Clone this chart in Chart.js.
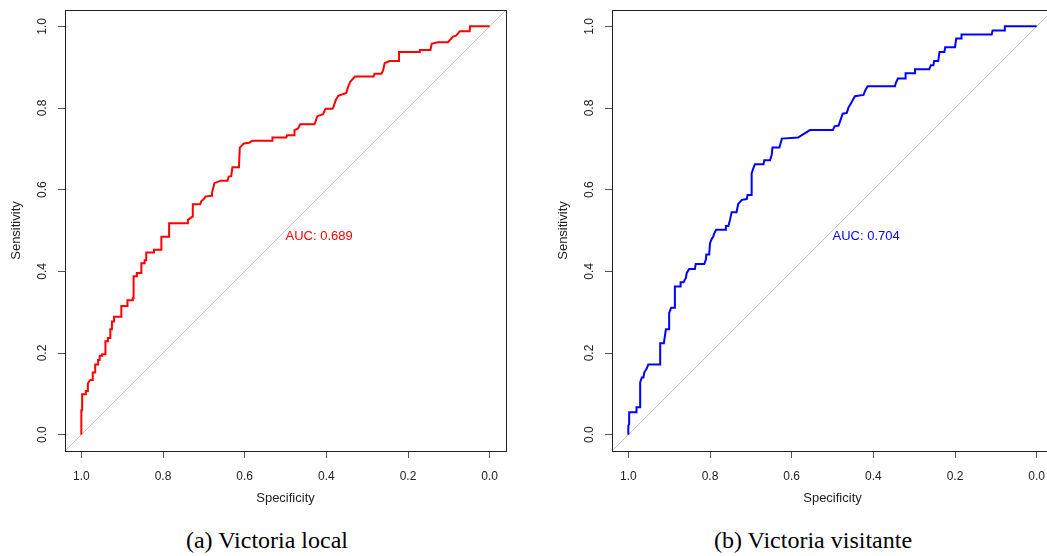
<!DOCTYPE html>
<html>
<head>
<meta charset="utf-8">
<script src="https://cdn.jsdelivr.net/npm/chart.js@4.4.1/dist/chart.umd.min.js"></script>
<style>
  html, body { margin: 0; padding: 0; background: #fff; }
  body { width: 1047px; height: 556px; position: relative; overflow: hidden; }
  canvas { position: absolute; top: 0; }
  #rocLocal { left: 0; }
  #rocVisit { left: 547px; }
  .caption {
    position: absolute; top: 528px; width: 300px; text-align: center;
    font-family: "Liberation Serif", "Times New Roman", serif;
    font-size: 24px; line-height: 24px; color: #000;
  }
</style>
</head>
<body>
<canvas id="rocLocal" width="547" height="520"></canvas>
<canvas id="rocVisit" width="547" height="520"></canvas>
<div class="caption" style="left:117px">(a) Victoria local</div>
<div class="caption" style="left:663px">(b) Victoria visitante</div>
<script>
// [specificity, sensitivity] vertices
const rocLocal = [
  [1.0, 0], [1.0, 0.060], [0.998, 0.060], [0.998, 0.099], [0.989, 0.099], [0.989, 0.107],
  [0.984, 0.107], [0.984, 0.126], [0.978, 0.134], [0.972, 0.134], [0.972, 0.152], [0.966, 0.152],
  [0.966, 0.172], [0.959, 0.172], [0.959, 0.183], [0.955, 0.183], [0.955, 0.193], [0.949, 0.193],
  [0.949, 0.197], [0.941, 0.197], [0.941, 0.229], [0.935, 0.229], [0.935, 0.237], [0.929, 0.237],
  [0.929, 0.258], [0.925, 0.258], [0.925, 0.277], [0.920, 0.277], [0.920, 0.289], [0.902, 0.289],
  [0.902, 0.315], [0.887, 0.315], [0.887, 0.329], [0.874, 0.329], [0.874, 0.335], [0.872, 0.335],
  [0.872, 0.388], [0.864, 0.388], [0.864, 0.396], [0.853, 0.396], [0.853, 0.420], [0.845, 0.420],
  [0.845, 0.427], [0.841, 0.427], [0.841, 0.446], [0.822, 0.446], [0.822, 0.453], [0.804, 0.453],
  [0.804, 0.485], [0.785, 0.485], [0.785, 0.518], [0.739, 0.518], [0.739, 0.526], [0.728, 0.534],
  [0.727, 0.564], [0.709, 0.564], [0.706, 0.572], [0.700, 0.577], [0.696, 0.583], [0.682, 0.585],
  [0.680, 0.593], [0.674, 0.616], [0.659, 0.622], [0.642, 0.622], [0.639, 0.632], [0.633, 0.633],
  [0.630, 0.655], [0.614, 0.655], [0.612, 0.703], [0.602, 0.713], [0.589, 0.715], [0.581, 0.720],
  [0.533, 0.720], [0.532, 0.728], [0.498, 0.728], [0.496, 0.733], [0.479, 0.733], [0.478, 0.746],
  [0.469, 0.750], [0.464, 0.760], [0.429, 0.760], [0.422, 0.780], [0.408, 0.785], [0.402, 0.798],
  [0.385, 0.798], [0.382, 0.804], [0.377, 0.819], [0.371, 0.830], [0.351, 0.837], [0.347, 0.851],
  [0.341, 0.865], [0.330, 0.877], [0.284, 0.877], [0.282, 0.884], [0.265, 0.884], [0.261, 0.892],
  [0.257, 0.910], [0.245, 0.915], [0.222, 0.915], [0.222, 0.937], [0.173, 0.937], [0.171, 0.942],
  [0.145, 0.942], [0.142, 0.957], [0.127, 0.961], [0.102, 0.961], [0.090, 0.975], [0.082, 0.977],
  [0.073, 0.988], [0.049, 0.988], [0.048, 1.0], [0.0, 1.0]
];

const rocVisit = [
  [1.0, 0], [1.0, 0.022], [0.998, 0.026], [0.998, 0.055], [0.980, 0.055], [0.980, 0.067],
  [0.971, 0.067], [0.971, 0.128], [0.967, 0.140], [0.963, 0.140], [0.961, 0.152], [0.955, 0.162],
  [0.951, 0.172], [0.922, 0.172], [0.922, 0.224], [0.913, 0.224], [0.908, 0.258], [0.900, 0.258],
  [0.900, 0.298], [0.895, 0.311], [0.886, 0.311], [0.886, 0.363], [0.873, 0.363], [0.872, 0.373],
  [0.865, 0.373], [0.859, 0.384], [0.857, 0.396], [0.851, 0.406], [0.837, 0.406], [0.835, 0.418],
  [0.814, 0.418], [0.810, 0.429], [0.809, 0.441], [0.802, 0.441], [0.800, 0.469], [0.796, 0.479],
  [0.792, 0.485], [0.790, 0.492], [0.785, 0.502], [0.763, 0.502], [0.761, 0.511], [0.755, 0.511],
  [0.751, 0.526], [0.747, 0.545], [0.735, 0.545], [0.731, 0.565], [0.722, 0.575], [0.710, 0.577],
  [0.708, 0.587], [0.698, 0.587], [0.698, 0.640], [0.694, 0.652], [0.690, 0.662], [0.669, 0.662],
  [0.667, 0.672], [0.653, 0.672], [0.649, 0.685], [0.647, 0.703], [0.630, 0.703], [0.624, 0.725],
  [0.584, 0.728], [0.579, 0.731], [0.555, 0.746], [0.499, 0.746], [0.495, 0.755], [0.485, 0.757],
  [0.482, 0.766], [0.475, 0.786], [0.465, 0.788], [0.461, 0.801], [0.455, 0.811], [0.450, 0.820],
  [0.445, 0.829], [0.424, 0.832], [0.419, 0.845], [0.414, 0.853], [0.347, 0.853], [0.345, 0.861],
  [0.340, 0.872], [0.322, 0.872], [0.321, 0.885], [0.300, 0.885], [0.298, 0.895], [0.263, 0.895],
  [0.259, 0.905], [0.253, 0.905], [0.251, 0.915], [0.241, 0.915], [0.238, 0.937], [0.226, 0.937],
  [0.224, 0.949], [0.200, 0.949], [0.197, 0.970], [0.185, 0.970], [0.184, 0.980], [0.110, 0.980],
  [0.108, 0.990], [0.080, 0.990], [0.078, 1.0], [0.0, 1.0]
];

const tickValues = [0, 0.2, 0.4, 0.6, 0.8, 1.0];
const axisMin = -0.04, axisMax = 1.04;
const aucLocal = 0.689, aucVisit = 0.704;

Chart.defaults.font.family = '"Liberation Sans", Arial, sans-serif';
Chart.defaults.color = '#222';

// R style box around the plot region
const boxPlugin = {
  id: 'box',
  afterDraw(chart) {
    const { ctx, chartArea: a } = chart;
    ctx.save();
    ctx.strokeStyle = '#222';
    ctx.lineWidth = 1;
    ctx.strokeRect(Math.round(a.left) + 0.5, Math.round(a.top) + 0.5,
      Math.round(a.right - a.left), Math.round(a.bottom - a.top));
    ctx.restore();
  }
};

// "AUC: x" note placed in data units, left/top aligned like pROC
const aucPlugin = {
  id: 'aucText',
  afterDatasetsDraw(chart, args, opts) {
    const { ctx, scales } = chart;
    ctx.save();
    ctx.font = '13px "Liberation Sans", Arial, sans-serif';
    ctx.fillStyle = opts.color;
    ctx.textAlign = 'left';
    ctx.textBaseline = 'top';
    ctx.fillText('AUC: ' + opts.value.toFixed(3), scales.x.getPixelForValue(0.5), scales.y.getPixelForValue(0.5) - 1);
    ctx.restore();
  }
};

function fixTicks(scale) {
  scale.ticks = tickValues.map(v => ({ value: v }));
}

function makeRoc(id, points, color, auc) {
  return new Chart(document.getElementById(id), {
    type: 'scatter',
    data: {
      datasets: [
        {
          data: points.map(p => ({ x: p[0], y: p[1] })),
          showLine: true,
          borderColor: color,
          borderWidth: 2,
          pointRadius: 0,
          order: 1
        },
        {
          data: [{ x: axisMax, y: axisMin }, { x: axisMin, y: axisMax }],
          showLine: true,
          borderColor: '#c8c8c8',
          borderWidth: 1,
          pointRadius: 0,
          order: 2
        }
      ]
    },
    options: {
      responsive: false,
      animation: false,
      devicePixelRatio: 1,
      layout: { padding: { top: 10, right: 41, left: 0, bottom: 0 } },
      plugins: {
        legend: { display: false },
        tooltip: { enabled: false },
        aucText: { value: auc, color: color }
      },
      scales: {
        x: {
          type: 'linear',
          reverse: true,
          min: axisMin,
          max: axisMax,
          afterBuildTicks: fixTicks,
          afterFit(scale) {
            scale.height = 69;
            scale.paddingLeft = scale.paddingRight = 0;
          },
          grid: { drawOnChartArea: false, drawTicks: true, tickLength: 7, tickColor: '#555' },
          border: { display: true, color: '#555' },
          ticks: {
            padding: 11,
            maxRotation: 0,
            font: { size: 12 },
            callback: v => v.toFixed(1)
          },
          title: {
            display: true,
            text: 'Specificity',
            font: { size: 13 },
            padding: { top: 0, bottom: 14 }
          }
        },
        y: {
          type: 'linear',
          min: axisMin,
          max: axisMax,
          afterBuildTicks: fixTicks,
          afterFit(scale) {
            scale.width = 65;
            scale.paddingTop = scale.paddingBottom = 0;
          },
          grid: { drawOnChartArea: false, drawTicks: true, tickLength: 7, tickColor: '#555' },
          border: { display: true, color: '#555' },
          ticks: {
            padding: 7,
            minRotation: 90,
            maxRotation: 90,
            crossAlign: 'center',
            font: { size: 12 },
            callback: v => v.toFixed(1)
          },
          title: {
            display: true,
            text: 'Sensitivity',
            font: { size: 13 },
            padding: { top: 9, bottom: 0 }
          }
        }
      }
    },
    plugins: [boxPlugin, aucPlugin]
  });
}

makeRoc('rocLocal', rocLocal, '#ff0000', aucLocal);
makeRoc('rocVisit', rocVisit, '#0000ff', aucVisit);
</script>
</body>
</html>
